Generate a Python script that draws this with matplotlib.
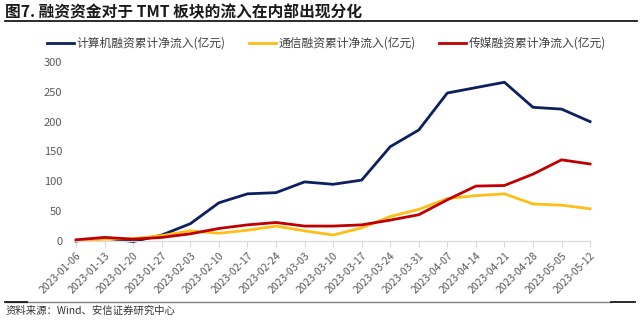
import matplotlib
matplotlib.use('Agg')
import matplotlib.pyplot as plt
from matplotlib.lines import Line2D

plt.rcParams['font.family'] = ['Noto Sans CJK SC', 'DejaVu Sans']

dates = ['2023-01-06', '2023-01-13', '2023-01-20', '2023-01-27', '2023-02-03',
         '2023-02-10', '2023-02-17', '2023-02-24', '2023-03-03', '2023-03-10',
         '2023-03-17', '2023-03-24', '2023-03-31', '2023-04-07', '2023-04-14',
         '2023-04-21', '2023-04-28', '2023-05-05', '2023-05-12']
computer = [0, 5, -1, 10, 29, 64, 79, 81, 99, 95,
            102, 158, 186, 248, 257, 266, 224, 221, 200]
telecom = [1, 3, 4, 9, 17, 13, 18, 25, 17, 10,
           22, 41, 53, 71, 76, 79, 62, 60, 54]
media = [2, 6, 3, 6, 12, 21, 27, 31, 25, 25,
         27, 35, 44, 69, 92, 93, 112, 136, 129]

labels = ['计算机融资累计净流入(亿元)', '通信融资累计净流入(亿元)', '传媒融资累计净流入(亿元)']
colors = ['#0C1F5E', '#FDBE16', '#C00000']

fig = plt.figure(figsize=(6.4, 3.22), dpi=100)
ax = fig.add_axes([0.119, 0.2516, 0.803, 0.556])

x = range(len(dates))
for series, lab, col in zip([computer, telecom, media], labels, colors):
    ax.plot(x, series, color=col, lw=2.0, label=lab, clip_on=False)

for s in ['top', 'right', 'left']:
    ax.spines[s].set_visible(False)
ax.spines['bottom'].set_color('#D9D9D9')

ax.set_xlim(0, len(dates) - 1)
ax.set_ylim(0, 300)
ax.set_yticks([0, 50, 100, 150, 200, 250, 300])
ax.set_xticks(list(x))
ax.set_xticklabels(dates, rotation=45, ha='right', rotation_mode='anchor')
ax.tick_params(axis='x', labelsize=7.5, labelcolor='#595959', length=4, color='#D9D9D9', pad=3)
ax.tick_params(axis='y', labelsize=8, labelcolor='#595959', length=0, pad=10)

fig.legend(loc='center', bbox_to_anchor=(0.51, 0.865), ncol=3, frameon=False,
           fontsize=8.5, handlelength=2.3, handletextpad=0.2, columnspacing=2.0,
           labelcolor='#404040')

fig.text(0.008, 0.963, '图7. 融资资金对于 TMT 板块的流入在内部出现分化', fontsize=11.3,
         fontweight='bold', color='#1a1a1a', va='center', ha='left')
fig.add_artist(Line2D([0.008, 0.995], [0.934, 0.934], color='#1a1a1a', lw=1.3,
                      transform=fig.transFigure))

fig.add_artist(Line2D([0.008, 0.955], [0.062, 0.062], color='#808080', lw=1.0,
                      transform=fig.transFigure))
fig.add_artist(Line2D([0.008, 0.042], [0.062, 0.062], color='#1a1a1a', lw=1.3,
                      transform=fig.transFigure))
fig.add_artist(Line2D([0.955, 0.992], [0.062, 0.062], color='#1a1a1a', lw=1.3,
                      transform=fig.transFigure))
fig.text(0.008, 0.034, '资料来源：Wind、安信证券研究中心', fontsize=7.5, style='italic',
         color='#333333', va='center', ha='left')

fig.savefig('out.png', dpi=100)
